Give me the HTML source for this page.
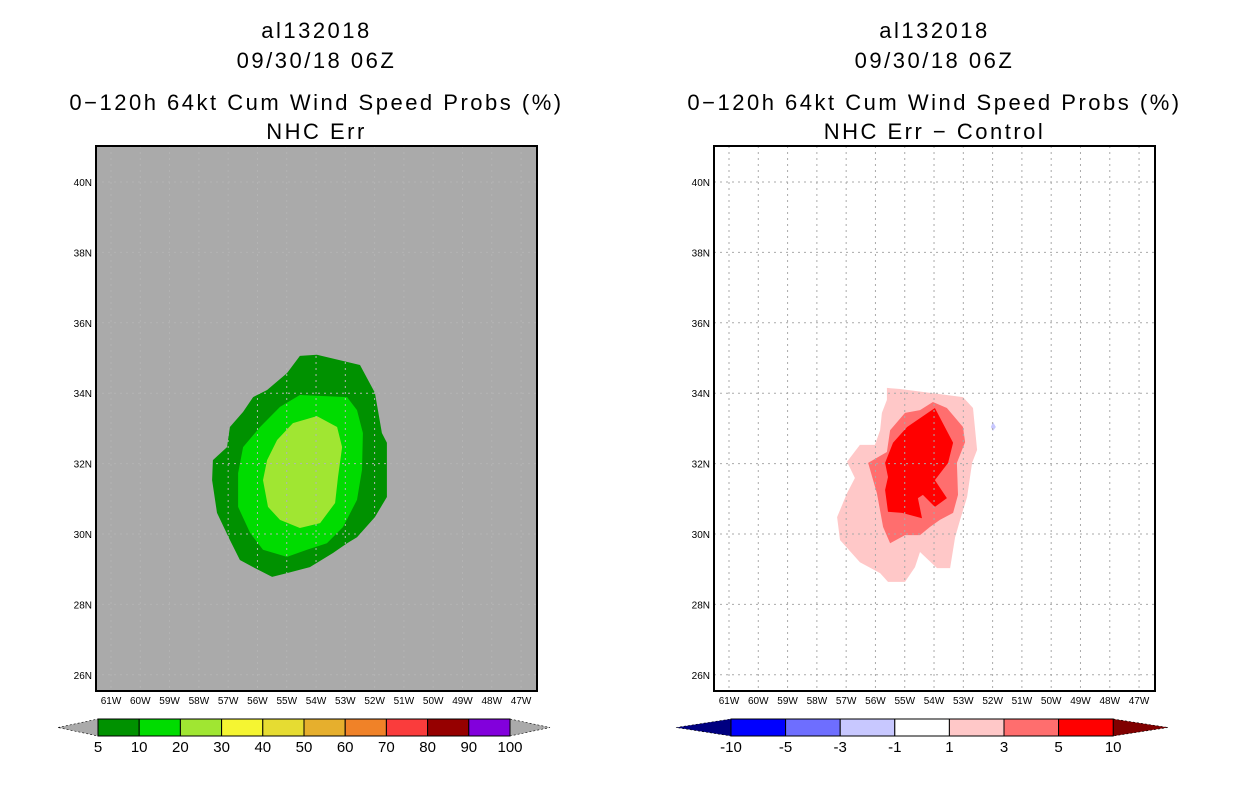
<!DOCTYPE html>
<html><head><meta charset="utf-8"><style>
body{margin:0;background:#fff;width:1236px;height:800px;overflow:hidden}
svg{display:block;font-family:"Liberation Sans",sans-serif}
</style></head><body>
<svg id="svg" width="1236" height="800"></svg>
<script>
// ---- data ----
const latTicks=[40,38,36,34,32,30,28,26];
const lonTicks=[61,60,59,58,57,56,55,54,53,52,51,50,49,48,47];
const leftLevels=["5","10","20","30","40","50","60","70","80","90","100"];
const leftColors=["#009100","#00dc00","#a0e632","#f5f532","#e6dc32","#e6af2d","#f08228","#fa3c3c","#960000","#8200dc"];
const rightLevels=["-10","-5","-3","-1","1","3","5","10"];
const rightColors=["#0000ff","#6e6eff","#c8c8ff","#ffffff","#ffc8c8","#ff6e6e","#ff0000"];
// contour polygons (lonW, lat)
const g5Lon=[54.55,53.97,52.50,51.99,51.75,51.58,51.58,51.99,52.60,52.94,53.42,54.21,54.99,55.50,56.15,56.60,56.94,57.38,57.55,57.52,57.04,56.94,56.49,56.15,55.67,54.99];
const g5Lat=[35.06,35.09,34.80,34.01,32.87,32.59,31.05,30.48,29.91,29.74,29.46,29.06,28.89,28.78,29.06,29.26,29.83,30.60,31.53,32.10,32.47,33.04,33.47,33.89,34.09,34.57];
const g10Lon=[54.55,52.94,52.60,52.40,52.43,52.60,53.08,53.63,54.31,54.99,55.81,56.25,56.66,56.66,56.49,55.91,55.23];
const g10Lat=[33.95,33.89,33.52,32.87,31.82,30.97,30.20,29.74,29.55,29.35,29.55,30.03,30.77,31.73,32.47,33.04,33.61];
const g20Lon=[53.97,53.28,53.11,53.25,53.35,53.86,54.55,55.23,55.64,55.81,55.67,55.33,54.79];
const g20Lat=[33.35,33.04,32.47,31.62,30.88,30.31,30.17,30.40,30.77,31.53,32.10,32.67,33.15];
const d1Lon=[55.61,55.16,53.01,52.67,52.53,52.70,52.87,53.11,53.28,53.45,53.90,54.48,54.65,54.99,55.57,55.84,56.53,57.21,57.31,56.97,56.70,56.97,56.53,56.02,55.84,55.78,55.61];
const d1Lat=[34.15,34.12,33.89,33.58,32.39,32.02,31.05,30.40,29.91,29.03,29.03,29.49,29.06,28.64,28.64,28.89,29.20,29.83,30.48,31.16,31.59,32.05,32.53,32.53,32.95,33.44,33.81];
const d3Lon=[54.04,53.56,53.01,52.94,53.22,53.18,53.35,53.80,54.14,54.48,54.99,55.50,55.74,55.95,56.25,55.61,55.50,54.99,54.48];
const d3Lat=[33.75,33.58,33.04,32.61,32.02,31.11,30.60,30.40,30.20,29.97,29.97,29.74,30.20,31.16,32.02,32.33,32.95,33.44,33.52];
const d5Lon=[53.97,53.35,53.52,53.97,53.56,53.97,54.38,54.55,54.41,55.09,55.57,55.67,55.57,55.67,55.40,54.92];
const d5Lat=[33.58,32.59,32.02,31.53,31.02,30.77,31.11,31.02,30.45,30.60,30.63,31.25,31.62,32.02,32.59,33.04];
const negLon=[51.99];const negLat=[33.04];

const NS="http://www.w3.org/2000/svg";
const svg=document.getElementById('svg');
function mk(tag,attrs,parent){const e=document.createElementNS(NS,tag);for(const k in attrs)e.setAttribute(k,attrs[k]);(parent||svg).appendChild(e);return e;}
function txt(x,y,s,size,anchor,parent){const t=mk('text',{x:x,y:y,'font-size':size,'text-anchor':anchor||'middle',fill:'#000'},parent);t.textContent=s;return t;}

function panel(x0,bg,titleLines,name){
  const W=441,H=545,y0=146;
  const xs=lonW=>x0+15+(61-lonW)*29.29;
  const ys=lat=>182+(40-lat)*35.2;
  const g=mk('g',{});
  
  
  const cx=x0+W/2;
  const tys=[38,68,110,139];
  titleLines.forEach((s,i)=>{const t=txt(cx,tys[i],s,22,'middle',g);
    t.setAttribute('letter-spacing','2.5');
    
    });
  const bgR=mk('rect',{x:x0,y:y0,width:W,height:H,fill:bg},g);
  
  
  const clip=mk('g',{},g);
  return {g,clip,xs,ys,x0,y0,W,H};
}
function poly(p,lons,lats,fill,name){
  const pts=lons.map((l,i)=>p.xs(l).toFixed(1)+','+p.ys(lats[i]).toFixed(1)).join(' ');
  const e=mk('polygon',{points:pts,fill:fill},p.clip);
  
  
}
function axes(p,gridCol){
  lonTicks.forEach(l=>{const x=p.xs(l);
    mk('line',{x1:x,y1:p.y0,x2:x,y2:p.y0+p.H,stroke:gridCol,'stroke-dasharray':'2,4','stroke-width':1},p.g);
    const t=txt(x,704,l+'W',10,'middle',p.g);
    
    });
  latTicks.forEach(l=>{const y=p.ys(l);
    mk('line',{x1:p.x0,y1:y,x2:p.x0+p.W,y2:y,stroke:gridCol,'stroke-dasharray':'2,4','stroke-width':1},p.g);
    const t=txt(p.x0-4,y+4,l+'N',10,'end',p.g);
    
    });
  const fr=mk('rect',{x:p.x0,y:p.y0,width:p.W,height:p.H,fill:'none',stroke:'#000','stroke-width':2},p.g);
  
  
}
function colorbar(x0,x1,boxW,levels,colors,leftTri,rightTri,name){
  const g=mk('g',{});
  
  
  const y=719,h=17,n=colors.length;
  mk('polygon',{points:`${x0},${y+h/2} ${x1},${y} ${x1},${y+h}`,fill:leftTri,stroke:'#000','stroke-dasharray':'2,2','stroke-width':0.6},g);
  const xe=x1+n*boxW;
  mk('polygon',{points:`${xe},${y} ${xe+(x1-x0)},${y+h/2} ${xe},${y+h}`,fill:rightTri,stroke:'#000','stroke-dasharray':'2,2','stroke-width':0.6},g);
  colors.forEach((c,i)=>{const r=mk('rect',{x:x1+i*boxW,y:y,width:boxW,height:h,fill:c,stroke:'#000','stroke-width':1},g);
    
    });
  levels.forEach((s,i)=>{const t=txt(x1+i*boxW,752,s,15,'middle',g);
    
    });
}

const L=panel(96,'#aaaaaa',['al132018','09/30/18 06Z','0\u2212120h 64kt Cum Wind Speed Probs (%)','NHC Err'],'left-panel');
poly(L,g5Lon,g5Lat,leftColors[0],'contour-5-10');
poly(L,g10Lon,g10Lat,leftColors[1],'contour-10-20');
poly(L,g20Lon,g20Lat,leftColors[2],'contour-20-30');
axes(L,'#b4b4b4');

const R=panel(714,'#ffffff',['al132018','09/30/18 06Z','0\u2212120h 64kt Cum Wind Speed Probs (%)','NHC Err \u2212 Control'],'right-panel');
poly(R,d1Lon,d1Lat,rightColors[4],'diff-1-3');
poly(R,d3Lon,d3Lat,rightColors[5],'diff-3-5');
poly(R,d5Lon,d5Lat,rightColors[6],'diff-5-10');
negLon.forEach((l,i)=>{const x=R.xs(l),y=R.ys(negLat[i]);
  const e=mk('polygon',{points:`${x},${y-5} ${x+3},${y} ${x},${y+4} ${x-2},${y}`,fill:'#c8c8ff'},R.clip);
  
  });
axes(R,'#aaaaaa');

colorbar(58,98,41.2,leftLevels,leftColors,'#aaaaaa','#aaaaaa','left-colorbar');
colorbar(676,731,54.6,rightLevels,rightColors,'#000080','#800000','right-colorbar');
</script>
</body></html>
